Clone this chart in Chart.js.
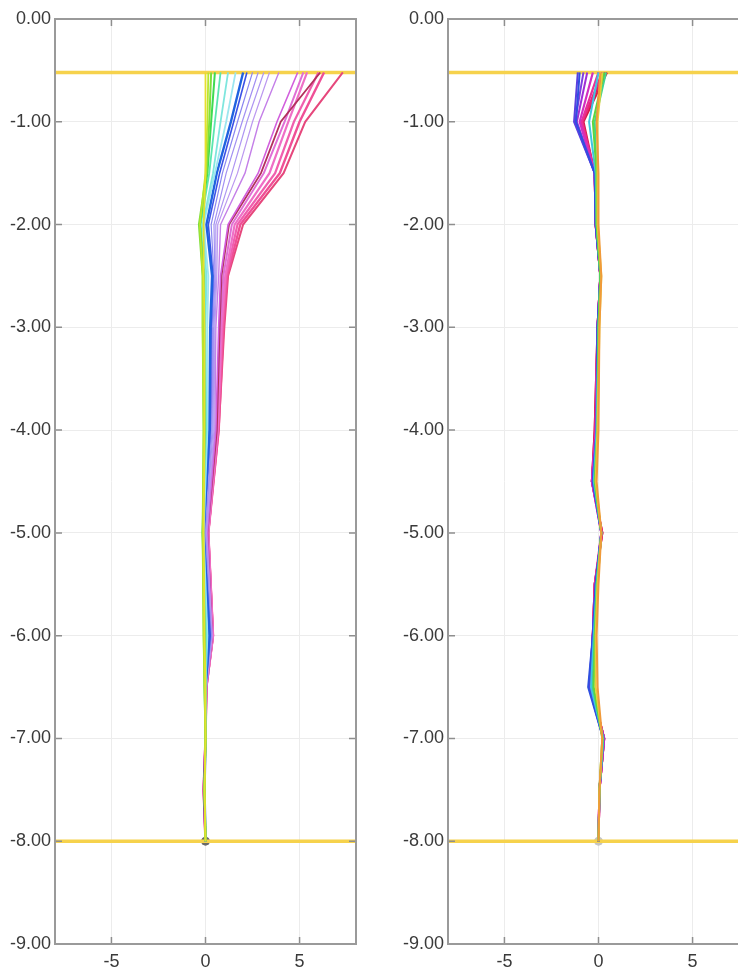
<!DOCTYPE html>
<html>
<head>
<meta charset="utf-8">
<title>Profiles</title>
<script src="https://cdn.jsdelivr.net/npm/chart.js@4.4.0/dist/chart.umd.min.js"></script>
<style>
    html, body { margin: 0; padding: 0; background: #fff; width: 738px; height: 967px; overflow: hidden; }
    .panel { position: absolute; top: 0; }
    #leftPanel { left: 0; }
    #rightPanel { left: 393px; }
</style>
</head>
<body>
<div class="panel" id="leftPanel"><canvas id="chartLeft" width="372" height="967"></canvas></div>
<div class="panel" id="rightPanel"><canvas id="chartRight" width="372" height="967"></canvas></div>
<script>
// depth nodes of each profile
const depthLeft = [-0.52, -1.0, -1.5, -2.0, -2.5, -3.0, -4.0, -5.0, -6.0, -6.5, -7.0, -7.5, -8.0];
const depthRight = [-0.52, -1.0, -1.5, -2.0, -2.5, -3.0, -4.0, -4.5, -5.0, -5.5, -6.0, -6.5, -7.0, -7.5, -8.0];

// left panel: one row per step
const leftProfiles = [
    [0.00, 0.00, 0.00, -0.10, -0.10, -0.05, -0.05, -0.10, -0.05, 0.00, 0.00, -0.05, 0],
    [0.15, 0.10, 0.00, -0.30, -0.15, -0.15, -0.10, -0.15, -0.10, -0.05, 0.00, -0.05, 0],
    [0.30, 0.20, 0.05, -0.35, -0.15, -0.15, -0.10, -0.15, -0.10, -0.05, 0.00, -0.05, 0],
    [0.50, 0.30, 0.10, -0.30, -0.10, -0.10, -0.05, -0.15, -0.05, -0.05, 0.00, -0.05, 0],
    [0.80, 0.50, 0.20, -0.25, -0.05, -0.05, 0.00, -0.15, 0.00, 0.00, 0.00, -0.05, 0],
    [1.20, 0.80, 0.40, -0.15, 0.05, 0.00, 0.05, -0.15, 0.05, 0.00, 0.00, -0.05, 0],
    [1.60, 1.10, 0.50, -0.10, 0.15, 0.10, 0.10, -0.10, 0.10, 0.00, 0.00, -0.05, 0],
    [2.00, 1.35, 0.60, 0.05, 0.35, 0.25, 0.20, -0.10, 0.20, 0.00, 0.00, -0.05, 0],
    [2.20, 1.50, 0.75, 0.15, 0.40, 0.30, 0.25, -0.10, 0.25, 0.00, 0.00, -0.05, 0],
    [2.50, 1.70, 0.90, 0.30, 0.45, 0.35, 0.30, -0.05, 0.30, 0.00, 0.00, -0.05, 0],
    [2.80, 1.95, 1.10, 0.45, 0.50, 0.40, 0.35, 0.00, 0.30, 0.00, 0.00, -0.05, 0],
    [3.10, 2.20, 1.40, 0.55, 0.55, 0.45, 0.40, 0.00, 0.30, 0.00, 0.00, -0.05, 0],
    [3.40, 2.50, 1.70, 0.65, 0.60, 0.50, 0.45, 0.05, 0.35, 0.05, 0.00, -0.05, 0],
    [3.90, 2.85, 2.10, 0.80, 0.70, 0.55, 0.50, 0.05, 0.35, 0.05, 0.00, -0.05, 0],
    [4.90, 3.80, 2.80, 1.20, 0.80, 0.70, 0.55, 0.10, 0.35, 0.05, 0.00, -0.05, 0],
    [6.10, 4.00, 2.95, 1.25, 0.85, 0.75, 0.60, 0.10, 0.35, 0.05, 0.00, -0.10, 0],
    [5.20, 4.20, 3.10, 1.40, 0.95, 0.80, 0.60, 0.10, 0.35, 0.05, 0.00, -0.10, 0],
    [5.40, 4.40, 3.40, 1.55, 1.05, 0.85, 0.65, 0.15, 0.40, 0.05, 0.00, -0.10, 0],
    [6.00, 4.70, 3.70, 1.70, 1.10, 0.90, 0.65, 0.15, 0.40, 0.05, 0.00, -0.10, 0],
    [6.30, 5.00, 3.95, 1.85, 1.15, 0.95, 0.70, 0.15, 0.40, 0.05, 0.00, -0.10, 0],
    [7.30, 5.30, 4.15, 2.00, 1.20, 1.00, 0.70, 0.15, 0.40, 0.05, 0.00, -0.10, 0]
];

// right panel
const rightProfiles = [
    [0.10, -0.10, 0.00, 0.00, 0.15, 0.05, 0.00, -0.10, 0.15, 0.00, -0.10, -0.05, 0.20, 0.05, 0],
    [0.20, -0.05, -0.05, -0.05, 0.15, 0.05, -0.05, -0.15, 0.15, -0.05, -0.15, -0.15, 0.20, 0.05, 0],
    [0.30, -0.30, -0.10, -0.10, 0.10, 0.00, -0.05, -0.20, 0.15, -0.05, -0.20, -0.25, 0.20, 0.05, 0],
    [0.40, -0.20, -0.10, -0.10, 0.10, 0.00, -0.05, -0.20, 0.15, -0.10, -0.20, -0.30, 0.25, 0.05, 0],
    [0.00, -0.50, -0.15, -0.10, 0.10, 0.00, -0.10, -0.25, 0.15, -0.10, -0.25, -0.40, 0.25, 0.05, 0],
    [-1.00, -1.20, -0.20, -0.15, 0.10, -0.05, -0.10, -0.30, 0.15, -0.15, -0.30, -0.55, 0.25, 0.05, 0],
    [-1.10, -1.30, -0.20, -0.15, 0.10, -0.05, -0.10, -0.30, 0.15, -0.15, -0.30, -0.50, 0.25, 0.05, 0],
    [-0.80, -1.25, -0.20, -0.15, 0.10, -0.05, -0.10, -0.30, 0.15, -0.15, -0.30, -0.50, 0.25, 0.05, 0],
    [-0.60, -1.15, -0.20, -0.15, 0.10, -0.05, -0.10, -0.30, 0.15, -0.15, -0.30, -0.45, 0.30, 0.05, 0],
    [-0.30, -1.00, -0.20, -0.15, 0.10, -0.05, -0.15, -0.35, 0.15, -0.15, -0.30, -0.45, 0.30, 0.05, 0],
    [0.00, -0.90, -0.20, -0.15, 0.10, -0.05, -0.15, -0.35, 0.15, -0.20, -0.30, -0.40, 0.30, 0.05, 0],
    [0.20, -0.85, -0.20, -0.15, 0.10, -0.05, -0.15, -0.35, 0.20, -0.20, -0.30, -0.40, 0.30, 0.05, 0],
    [0.35, -0.90, -0.20, -0.15, 0.10, -0.05, -0.20, -0.35, 0.20, -0.20, -0.30, -0.40, 0.30, 0.05, 0],
    [0.45, -0.80, -0.20, -0.15, 0.10, -0.05, -0.20, -0.35, 0.20, -0.20, -0.30, -0.40, 0.30, 0.05, 0]
];

// horizontal reference levels and base point
const levels = [-0.52, -8.0];
const basePoint = [0, -8.0];

const xTicks = [-5, 0, 5];
const xRange = [-8, 8];
const yRange = [-9, 0];

// line styles
const leftColors = ['#e6df2e', '#b9e52c', '#7fdf3c', '#3fdb52', '#5ce6b0', '#7fe6de', '#9de6ef',
    '#1f62e0', '#3b52e6', '#8a86f0', '#a290f2', '#ae96f2', '#bb98f0', '#c47fe8',
    '#d25fdd', '#b2305c', '#e06fd6', '#ef6fc6', '#f05fae', '#ef4f96', '#e6477c'];
const leftWidths = [1.8, 1.8, 2, 2, 1.8, 1.8, 1.8, 2.4, 1.6, 1.2, 1.2, 1.2, 1.2, 1.4,
    1.6, 1.8, 2, 2.2, 2.2, 2.4, 2];
const rightColors = ['#f09a3a', '#e6cf3a', '#5fd63e', '#3fd68e', '#3fc6df', '#2f4fe0', '#5a3fe0',
    '#7f3fe0', '#a02fd6', '#d22fc0', '#e82f98', '#e82878', '#e0205e', '#d81846'];
const rightWidths = [2, 2, 2, 2, 2, 2, 2, 2, 2, 2.2, 2.2, 2.2, 2.2, 2.2];

const fontFamily = '"Liberation Sans", Arial, sans-serif';

// frame around the plot area with short ticks pointing inward
const framePlugin = {
    id: 'frame',
    afterDatasetsDraw(chart) {
        const { ctx, chartArea: a, scales } = chart;
        ctx.save();
        ctx.strokeStyle = '#8e8e8e';
        ctx.lineWidth = 1.5;
        ctx.beginPath();
        xTicks.forEach(v => {
            const px = scales.x.getPixelForValue(v);
            ctx.moveTo(px, a.top); ctx.lineTo(px, a.top + 7);
            ctx.moveTo(px, a.bottom); ctx.lineTo(px, a.bottom - 7);
        });
        scales.y.ticks.forEach(t => {
            const py = scales.y.getPixelForValue(t.value);
            ctx.moveTo(a.left, py); ctx.lineTo(a.left + 7, py);
            ctx.moveTo(a.right, py); ctx.lineTo(a.right - 7, py);
        });
        ctx.stroke();
        ctx.strokeStyle = '#9a9a9a';
        ctx.lineWidth = 2;
        ctx.strokeRect(a.left, a.top, a.right - a.left, a.bottom - a.top);
        ctx.restore();
    }
};

function profileData(depths, xs) {
    return xs.map((x, i) => ({ x: x, y: depths[i] }));
}

function makeChart(canvasId, depths, profiles, colors, widths, dotColor) {
    const datasets = profiles.map((xs, i) => ({
        data: profileData(depths, xs),
        borderColor: colors[i],
        borderWidth: widths[i],
        showLine: true,
        pointRadius: 0,
        tension: 0
    }));
    levels.forEach(lv => {
        datasets.push({
            data: [{ x: xRange[0], y: lv }, { x: xRange[1], y: lv }],
            borderColor: '#f6d24c',
            borderWidth: 3.5,
            showLine: true,
            pointRadius: 0
        });
    });
    datasets.push({
        data: [{ x: basePoint[0], y: basePoint[1] }],
        backgroundColor: dotColor,
        borderColor: dotColor,
        pointRadius: 4,
        showLine: false
    });

    return new Chart(document.getElementById(canvasId).getContext('2d'), {
        type: 'scatter',
        data: { datasets: datasets },
        options: {
            responsive: false,
            animation: false,
            layout: { padding: { top: 19, right: 16, left: 0, bottom: 0 } },
            plugins: { legend: { display: false }, tooltip: { enabled: false } },
            scales: {
                x: {
                    type: 'linear',
                    min: xRange[0],
                    max: xRange[1],
                    afterBuildTicks: axis => { axis.ticks = xTicks.map(v => ({ value: v })); },
                    afterFit: scale => { scale.height = 23; },
                    grid: { color: '#ececec', lineWidth: 1, drawTicks: false },
                    border: { display: false },
                    ticks: {
                        padding: 7,
                        color: '#3a3a3a',
                        font: { family: fontFamily, size: 18 },
                        callback: v => String(v)
                    }
                },
                y: {
                    type: 'linear',
                    min: yRange[0],
                    max: yRange[1],
                    afterFit: scale => { scale.width = 55; },
                    grid: { color: '#ececec', lineWidth: 1, drawTicks: false },
                    border: { display: false },
                    ticks: {
                        stepSize: 1,
                        padding: 4,
                        color: '#3a3a3a',
                        font: { family: fontFamily, size: 18 },
                        callback: v => Number(v).toFixed(2)
                    }
                }
            }
        },
        plugins: [framePlugin]
    });
}

makeChart('chartLeft', depthLeft, leftProfiles, leftColors, leftWidths, '#6a6a6a');
makeChart('chartRight', depthRight, rightProfiles, rightColors, rightWidths, '#c4c4c4');
</script>
</body>
</html>
